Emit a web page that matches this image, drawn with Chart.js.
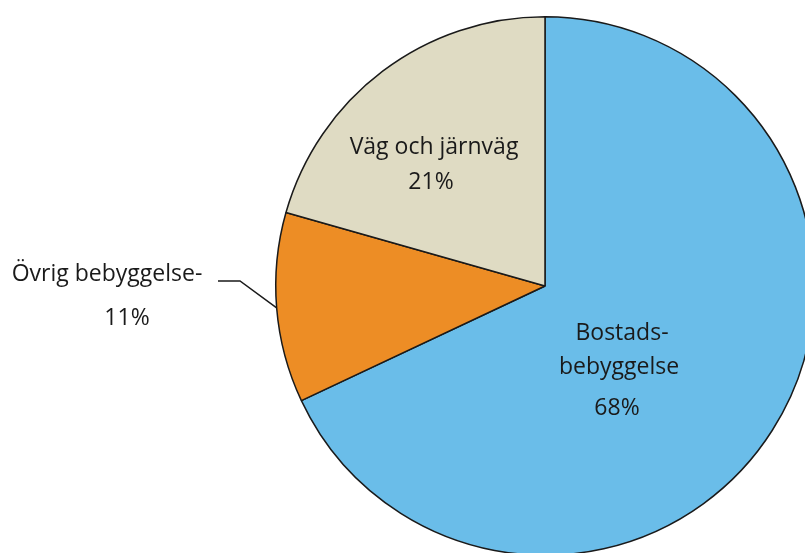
<!DOCTYPE html>
<html>
<head>
<meta charset="utf-8">
<script src="https://cdn.jsdelivr.net/npm/chart.js@4"></script>
<style>
    html, body { margin: 0; padding: 0; background: #fff; overflow: hidden; width: 805px; height: 553px; }
    canvas { display: block; }
</style>
</head>
<body>
<canvas id="pie" width="830" height="570"></canvas>
<script>
let categories = ['Bostadsbebyggelse', 'Övrig bebyggelse', 'Väg och järnväg'];
let shares = [68, 11.4, 20.6];
let sliceColors = ['#6abde9', '#ed8d25', '#dfdbc3'];

// label text lines per slice (percent comes from shares)
let labelLines = [
    ['Bostads-', 'bebyggelse'],
    ['Övrig bebyggelse-'],
    ['Väg och järnväg']
];

let labelPlugin = {
    id: 'sliceLabels',
    afterDatasetsDraw: function (chart) {
        let ctx = chart.ctx;
        let arcs = chart.getDatasetMeta(0).data;
        let cx = arcs[0].x;
        let cy = arcs[0].y;
        let r = arcs[0].outerRadius;
        ctx.save();
        ctx.font = '23px "Open Sans", sans-serif';
        ctx.fillStyle = '#1a1a1a';
        ctx.textAlign = 'center';
        ctx.textBaseline = 'middle';

        // Bostadsbebyggelse, inside
        ctx.fillText(labelLines[0][0], cx + 77, cy + 47);
        ctx.fillText(labelLines[0][1], cx + 74, cy + 81);
        ctx.fillText(Math.round(shares[0]) + '%', cx + 72, cy + 122);

        // Väg och järnväg, inside
        ctx.fillText(labelLines[2][0], cx - 111, cy - 139);
        ctx.fillText(Math.round(shares[2]) + '%', cx - 114, cy - 104);

        // Övrig bebyggelse, outside with leader line
        ctx.fillText(labelLines[1][0], 107, cy - 12);
        ctx.fillText(Math.round(shares[1]) + '%', 127, cy + 32);

        let a = arcs[1];
        let mid = (a.startAngle + a.endAngle) / 2;
        let ex = cx + Math.cos(mid) * r;
        let ey = cy + Math.sin(mid) * r;
        ctx.strokeStyle = '#1a1a1a';
        ctx.lineWidth = 1.5;
        ctx.beginPath();
        ctx.moveTo(218, cy - 5);
        ctx.lineTo(240, cy - 5);
        ctx.lineTo(ex, ey);
        ctx.stroke();
        ctx.restore();
    }
};

let ctx = document.getElementById('pie').getContext('2d');

let data = {
    labels: categories,
    datasets: [{
        data: shares,
        backgroundColor: sliceColors,
        borderColor: '#1a1a1a',
        borderWidth: 1.5
    }]
};

let options = {
    responsive: false,
    animation: false,
    layout: {
        padding: { left: 275, top: 16, right: 15, bottom: 14 }
    },
    plugins: {
        legend: { display: false },
        tooltip: { enabled: false }
    }
};

let pieChart = new Chart(ctx, {
    type: 'pie',
    data: data,
    options: options,
    plugins: [labelPlugin]
});
</script>
</body>
</html>
